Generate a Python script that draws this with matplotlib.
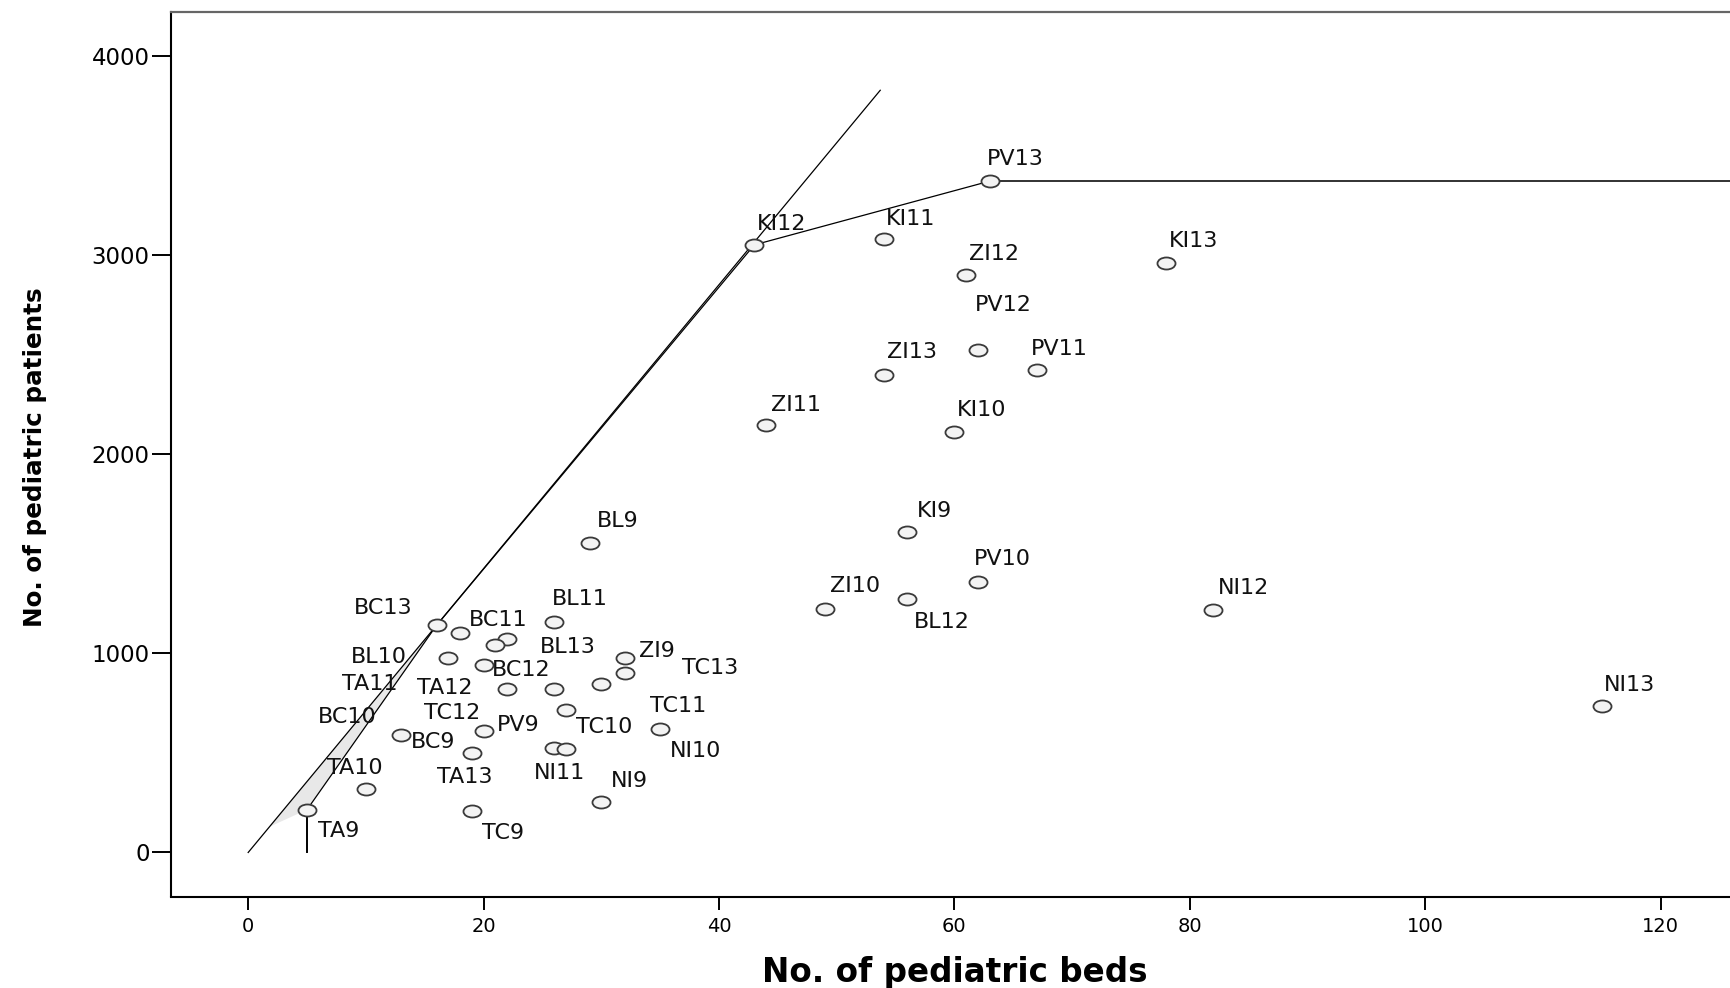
import numpy as np
import matplotlib
matplotlib.use("Agg")
import matplotlib.pyplot as plt
from matplotlib.path import Path
from matplotlib.markers import MarkerStyle
from matplotlib.transforms import Affine2D

# ---------------- data ----------------
units = ["PV13", "KI12", "KI11", "ZI12", "KI13", "PV12", "ZI13", "PV11", "ZI11", "KI10",
         "KI9", "PV10", "ZI10", "BL12", "NI12", "NI13", "BL9",
         "BC13", "BC11", "BL11", "BL13", "BL10", "BC12", "ZI9", "TC13", "TA12", "TA11",
         "TA9", "TC9", "NI9", "TA10", "TA13", "BC9", "PV9", "NI11", "NI10", "TC11",
         "TC10", "BC10", "TC12"]
beds = [63, 43, 54, 61, 78, 62, 54, 67, 44, 60,
        56, 62, 49, 56, 82, 115, 29,
        16, 18, 26, 22, 17, 20, 32, 32, 22, 21,
        5, 19, 30, 10, 19, 13, 20, 26, 35, 30,
        27, 26, 27]
patients = [3370, 3050, 3080, 2900, 2960, 2520, 2395, 2420, 2145, 2110,
            1610, 1357, 1223, 1272, 1218, 737, 1553,
            1140, 1100, 1155, 1071, 976, 942, 976, 901, 821, 1043,
            215, 207, 252, 319, 500, 591, 612, 525, 620, 847,
            520, 821, 717]
vrs_frontier = ["TA9", "BC13", "KI12", "PV13"]
crs_end_beds = 53.7
x_ticks = [0, 20, 40, 60, 80, 100, 120]
y_ticks = [0, 1000, 2000, 3000, 4000]
x_title = "No. of pediatric beds"
y_title = "No. of pediatric patients"

# label placement (pixel offsets: left edge, cap-centre below point)
label_offsets = {
    "PV13": (-3, -24), "KI12": (3, -23), "KI11": (2, -22), "ZI12": (3, -23),
    "KI13": (3, -24), "PV12": (-3, -47), "ZI13": (3, -25), "PV11": (-6, -23),
    "ZI11": (5, -22), "KI10": (2, -24), "KI9": (10, -23), "PV10": (-4, -25),
    "ZI10": (5, -25), "BL12": (7, 21), "NI12": (5, -24), "NI13": (2, -23),
    "BL9": (7, -24), "BC13": (-83, -19), "BC11": (9, -15), "BL11": (-2, -25),
    "BL13": (33, 6), "BL10": (-97, -3), "BC12": (8, 3), "ZI9": (14, -9),
    "TC13": (57, -7), "TA12": (-90, -3), "TA11": (-153, 37), "TA9": (11, 19),
    "TC9": (10, 20), "NI9": (10, -23), "TA10": (-39, -23), "TA13": (-35, 22),
    "BC9": (10, 5), "PV9": (13, -8), "NI11": (-20, 23), "NI10": (10, 20),
    "TC11": (49, 20), "TC10": (10, -24), "BC10": (-236, 26), "TC12": (-142, 1),
}

# ---------------- figure ----------------
W, H = 1731, 988
fig = plt.figure(figsize=(W / 100, H / 100), dpi=100)
left_px, right_px, top_px, bottom_px = 170.5, 1731, 12, 896.5
ax = fig.add_axes([left_px / W, (H - bottom_px) / H,
                   (right_px - left_px) / W, (bottom_px - top_px) / H])
ax.set_xlim(-6.6, 125.98)
ax.set_ylim(-221, 4219)

bx = np.array(beds, dtype=float)
py = np.array(patients, dtype=float)
idx = {n: i for i, n in enumerate(units)}

# CRS ray from origin through most efficient unit
slope = np.max(py / bx)
ax.plot([0, crs_end_beds], [0, slope * crs_end_beds], color="black", lw=0.9, zorder=2)

# shaded sliver between CRS ray and VRS segment
i9, i13 = idx["TA9"], idx["BC13"]
y_low = 0.6 * py[i9]
poly_x = [y_low / slope, bx[i9], bx[i13]]
poly_y = [y_low, py[i9], py[i13]]
ax.fill(poly_x, poly_y, color="#e8e8e8", zorder=1, lw=0)

# VRS frontier
fx = [bx[idx[n]] for n in vrs_frontier]
fy = [py[idx[n]] for n in vrs_frontier]
ax.plot(fx, fy, color="black", lw=0.9, zorder=2)
ax.plot([fx[0], fx[0]], [0, fy[0]], color="black", lw=1.4, zorder=2)
ax.plot([fx[-1], ax.get_xlim()[1]], [fy[-1], fy[-1]], color="#222222", lw=1.3, zorder=2)

# elliptical markers (the source is horizontally stretched)
ell = Path.unit_circle().transformed(Affine2D().scale(1.5, 1.0))
marker = MarkerStyle(ell)
ax.plot(bx, py, linestyle="none", marker=marker, markersize=13,
        markerfacecolor="#f3f3f3", markeredgecolor="#3a3a3a",
        markeredgewidth=1.3, zorder=3)

# point labels
for n, x, y in zip(units, bx, py):
    dx, dcy = label_offsets[n]
    ax.annotate(n, (x, y), xytext=(dx, -(dcy + 8)), textcoords="offset pixels",
                ha="left", va="baseline", fontsize=16, color="#111111",
                family="DejaVu Sans", zorder=4)

# axes styling
for s in ["left", "bottom"]:
    ax.spines[s].set_linewidth(1.5)
    ax.spines[s].set_color("black")
ax.spines["top"].set_linewidth(1.6)
ax.spines["top"].set_color("#666666")
ax.spines["right"].set_visible(False)

ax.set_xticks(x_ticks)
ax.set_yticks(y_ticks)
ax.tick_params(axis="x", length=9.5, width=1.4, pad=5.5, labelsize=14, colors="black")
ax.tick_params(axis="y", length=14, width=1.4, pad=1, labelsize=16.5, colors="black")

ax.set_xlabel(x_title, fontsize=23.5, fontweight="bold", family="DejaVu Sans")
ax.set_ylabel(y_title, fontsize=17.7, fontweight="bold", family="DejaVu Sans")
axw = right_px - left_px
axh = bottom_px - top_px
ax.xaxis.set_label_coords((955 - left_px) / axw, (bottom_px - 972) / axh)
ax.xaxis.label.set_va("center")
ax.yaxis.set_label_coords((35 - left_px) / axw, (bottom_px - 457.5) / axh)
ax.yaxis.label.set_va("center")

fig.savefig("out.png", dpi=100)
